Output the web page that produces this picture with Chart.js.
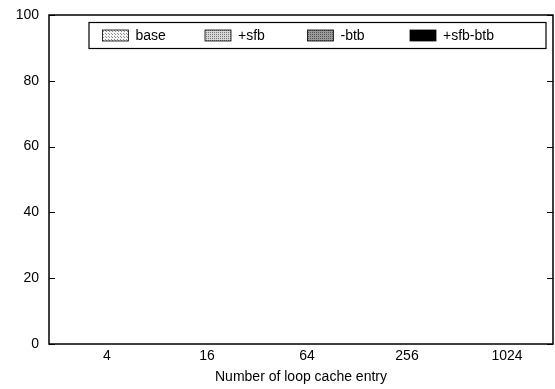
<!DOCTYPE html>
<html>
<head>
<meta charset="utf-8">
<script src="https://cdn.jsdelivr.net/npm/chart.js@4/dist/chart.umd.min.js"></script>
<style>
  html, body { margin: 0; padding: 0; background: #fff; }
  #wrap { width: 555px; height: 389px; }
</style>
</head>
<body>
<div id="wrap"><canvas id="loopChart" width="555" height="389"></canvas></div>
<script>
// loop cache sizes on the x axis
const entries = ['4', '16', '64', '256', '1024'];
const seriesNames = ['base', '+sfb', '-btb', '+sfb-btb'];
// the plot shows no visible bars, every series sits at zero
const baseVals = [0, 0, 0, 0, 0];
const sfbVals = [0, 0, 0, 0, 0];
const btbVals = [0, 0, 0, 0, 0];
const sfbBtbVals = [0, 0, 0, 0, 0];
const yTicks = [0, 20, 40, 60, 80, 100];

const FONT = 'Liberation Sans, Arial, Helvetica, sans-serif';
const FSIZE = 14;

function makePattern(bg, dot, step) {
    const c = document.createElement('canvas');
    c.width = step; c.height = step;
    const g = c.getContext('2d');
    g.fillStyle = bg;
    g.fillRect(0, 0, step, step);
    g.fillStyle = dot;
    g.fillRect(0, 0, 1, 1);
    if (step > 2) g.fillRect(Math.floor(step / 2), Math.floor(step / 2), 1, 1);
    return document.createElement('canvas').getContext('2d').createPattern(c, 'repeat');
}

const fills = [
    makePattern('#f4f4f4', '#8a8a8a', 3),
    makePattern('#d8d8d8', '#777777', 2),
    makePattern('#9a9a9a', '#555555', 2),
    '#000000'
];

const allVals = [baseVals, sfbVals, btbVals, sfbBtbVals];
const datasets = seriesNames.map(function(name, i) {
    return {
        label: name,
        data: allVals[i].map(function(v, j) { return {x: j, y: v}; }),
        backgroundColor: fills[i],
        borderWidth: 0
    };
});

const framePlugin = {
    id: 'frame',
    afterDraw: function(chart) {
        const ctx = chart.ctx;
        const a = chart.chartArea;
        const ys = chart.scales.y;
        ctx.save();
        ctx.strokeStyle = '#000';
        ctx.lineWidth = 1.5;
        ctx.strokeRect(a.left, a.top, a.right - a.left, a.bottom - a.top);
        ctx.lineWidth = 1;
        yTicks.forEach(function(t) {
            const py = Math.round(ys.getPixelForValue(t)) + 0.5;
            ctx.beginPath();
            ctx.moveTo(a.left, py); ctx.lineTo(a.left + 6, py);
            ctx.moveTo(a.right, py); ctx.lineTo(a.right - 6, py);
            ctx.stroke();
        });
        // key box
        const bx = a.left + 40, by = a.top + 7.5, bw = a.right - a.left - 47, bh = 26;
        ctx.lineWidth = 1.2;
        ctx.strokeRect(bx, by, bw, bh);
        ctx.font = FSIZE + 'px ' + FONT;
        ctx.textBaseline = 'middle';
        ctx.fillStyle = '#000';
        seriesNames.forEach(function(name, i) {
            const sx = bx + 13.5 + i * 102.5;
            const sy = by + 7.5;
            ctx.fillStyle = fills[i];
            ctx.fillRect(sx, sy, 26, 11);
            ctx.strokeStyle = '#000';
            ctx.lineWidth = 0.8;
            ctx.strokeRect(sx, sy, 26, 11);
            ctx.fillStyle = '#000';
            ctx.fillText(name, sx + 33, by + bh / 2 + 0.5);
        });
        ctx.restore();
    }
};

new Chart(document.getElementById('loopChart'), {
    type: 'bar',
    data: { datasets: datasets },
    options: {
        responsive: false,
        animation: false,
        layout: { padding: { top: 15, right: 2, left: 0, bottom: 0 } },
        plugins: { legend: { display: false }, tooltip: { enabled: false } },
        scales: {
            x: {
                type: 'linear',
                offset: false,
                min: -0.58,
                max: 4.46,
                afterBuildTicks: function(s) {
                    s.ticks = entries.map(function(_, i) { return {value: i}; });
                },
                afterFit: function(s) {
                    s.height = 45;
                    s.paddingLeft = 0;
                    s.paddingRight = 0;
                },
                grid: { display: false, drawTicks: false, offset: false },
                border: { display: false },
                ticks: {
                    padding: 4,
                    color: '#000',
                    font: { family: FONT, size: FSIZE },
                    maxRotation: 0,
                    autoSkip: false,
                    callback: function(v) { return entries[v]; }
                },
                title: {
                    display: true,
                    text: 'Number of loop cache entry',
                    color: '#000',
                    font: { family: FONT, size: FSIZE },
                    padding: { top: 2, bottom: 3 }
                }
            },
            y: {
                min: 0,
                max: 100,
                afterBuildTicks: function(s) {
                    s.ticks = yTicks.map(function(v) { return {value: v}; });
                },
                afterFit: function(s) {
                    s.width = 49;
                    s.paddingTop = 0;
                    s.paddingBottom = 0;
                },
                grid: { display: false, drawTicks: false },
                border: { display: false },
                ticks: {
                    padding: 10,
                    color: '#000',
                    font: { family: FONT, size: FSIZE }
                }
            }
        }
    },
    plugins: [framePlugin]
});
</script>
</body>
</html>
